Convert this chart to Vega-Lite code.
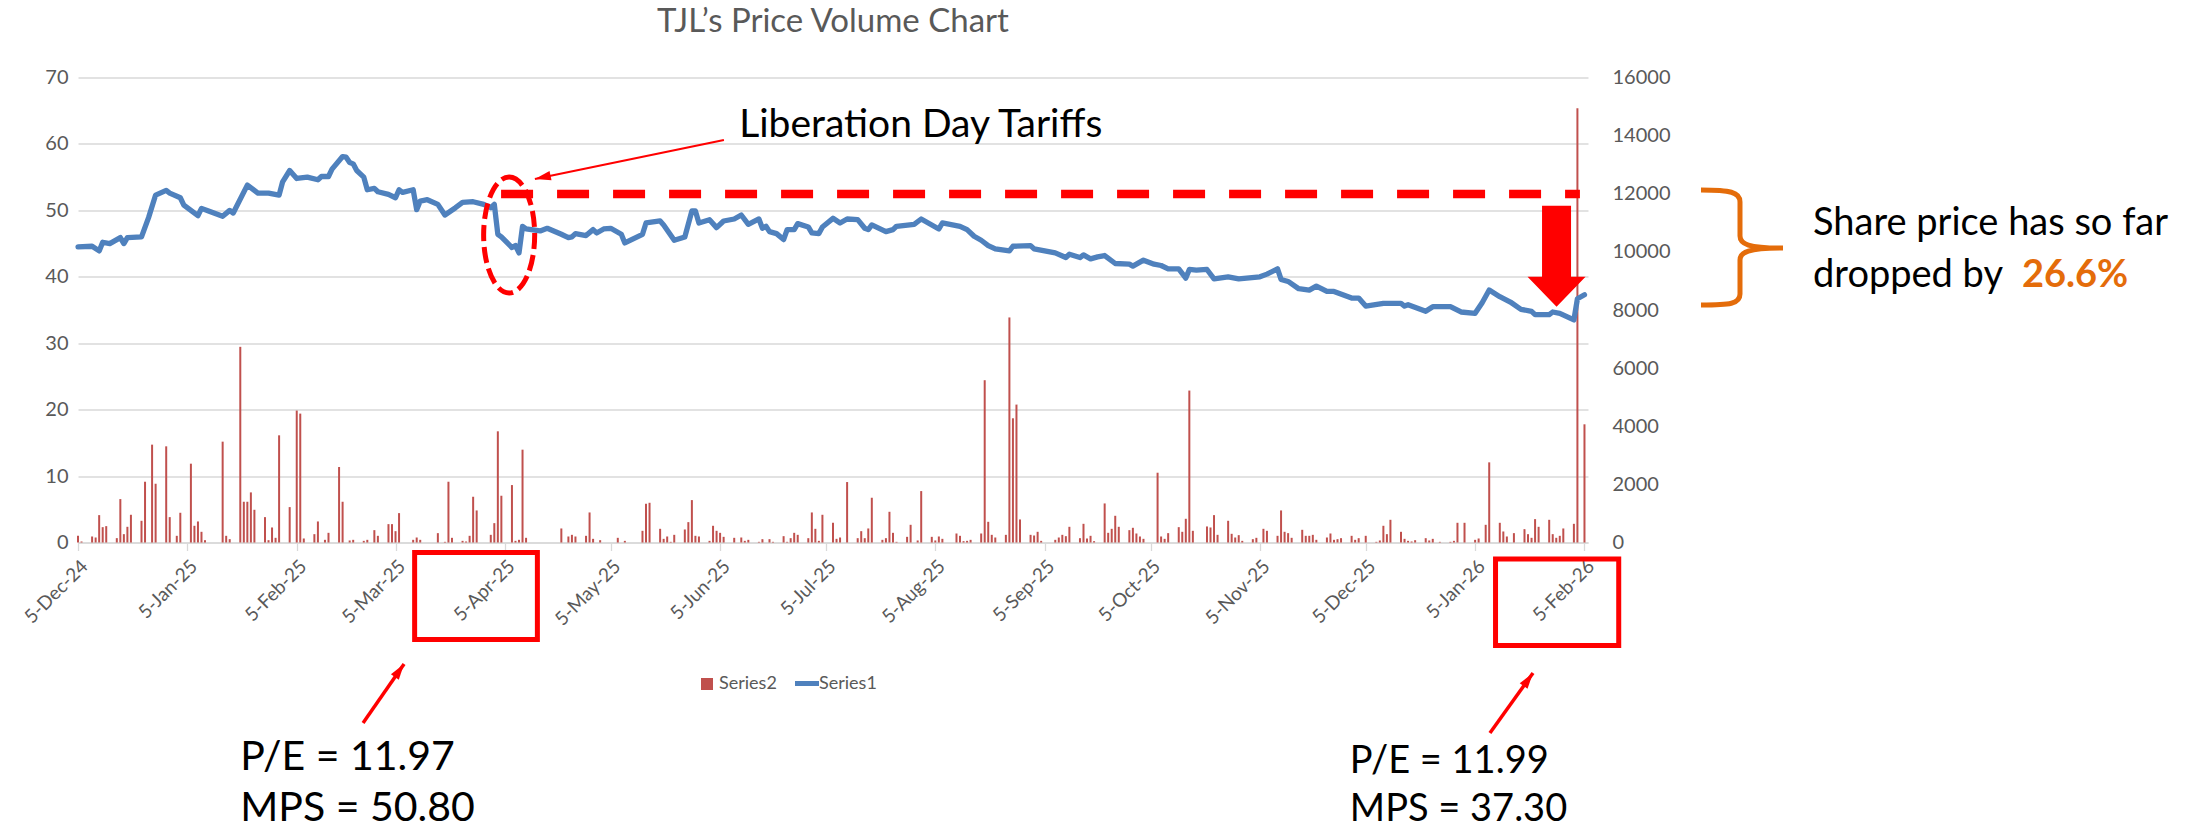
{
  "$schema": "https://vega.github.io/schema/vega-lite/v6.json",
  "width": 1510,
  "height": 465,
  "autosize": {"type": "none"},
  "padding": {"left": 78, "top": 77.5, "right": 619, "bottom": 286.5},
  "background": "white",
  "config": {"view": {"stroke": null}, "font": "Lato"},
  "title": {"text": "TJL’s Price Volume Chart", "font": "Lato", "fontSize": 33, "fontWeight": "normal", "color": "#595959", "anchor": "middle", "frame": "group", "offset": 3, "baseline": "alphabetic"},
  "datasets": {
    "price": [
      {"date": "2024-12-05", "price": 44.5}, {"date": "2024-12-09", "price": 44.6}, {"date": "2024-12-11", "price": 43.9}, {"date": "2024-12-12", "price": 45.2},
      {"date": "2024-12-14", "price": 45.0}, {"date": "2024-12-17", "price": 45.9}, {"date": "2024-12-18", "price": 45.0}, {"date": "2024-12-19", "price": 45.9},
      {"date": "2024-12-23", "price": 46.0}, {"date": "2024-12-25", "price": 48.9}, {"date": "2024-12-27", "price": 52.3}, {"date": "2024-12-30", "price": 53.0},
      {"date": "2024-12-31", "price": 52.6}, {"date": "2025-01-03", "price": 51.9}, {"date": "2025-01-04", "price": 50.8}, {"date": "2025-01-08", "price": 49.2},
      {"date": "2025-01-09", "price": 50.3}, {"date": "2025-01-11", "price": 49.9}, {"date": "2025-01-15", "price": 49.1}, {"date": "2025-01-17", "price": 50.0},
      {"date": "2025-01-18", "price": 49.6}, {"date": "2025-01-22", "price": 53.8}, {"date": "2025-01-25", "price": 52.6}, {"date": "2025-01-28", "price": 52.6},
      {"date": "2025-01-31", "price": 52.3}, {"date": "2025-02-01", "price": 54.3}, {"date": "2025-02-03", "price": 56.0}, {"date": "2025-02-05", "price": 54.8},
      {"date": "2025-02-08", "price": 55.0}, {"date": "2025-02-11", "price": 54.6}, {"date": "2025-02-12", "price": 55.1}, {"date": "2025-02-14", "price": 55.1},
      {"date": "2025-02-15", "price": 56.2}, {"date": "2025-02-18", "price": 58.1}, {"date": "2025-02-19", "price": 58.0}, {"date": "2025-02-20", "price": 57.2},
      {"date": "2025-02-21", "price": 57.0}, {"date": "2025-02-22", "price": 56.0}, {"date": "2025-02-24", "price": 55.0}, {"date": "2025-02-25", "price": 53.1},
      {"date": "2025-02-27", "price": 53.3}, {"date": "2025-02-28", "price": 52.8}, {"date": "2025-03-03", "price": 52.4}, {"date": "2025-03-05", "price": 51.9},
      {"date": "2025-03-06", "price": 53.1}, {"date": "2025-03-07", "price": 52.7}, {"date": "2025-03-10", "price": 53.1}, {"date": "2025-03-11", "price": 50.1},
      {"date": "2025-03-12", "price": 51.4}, {"date": "2025-03-14", "price": 51.6}, {"date": "2025-03-17", "price": 50.9}, {"date": "2025-03-19", "price": 49.3},
      {"date": "2025-03-22", "price": 50.4}, {"date": "2025-03-24", "price": 51.2}, {"date": "2025-03-27", "price": 51.3}, {"date": "2025-03-30", "price": 50.9},
      {"date": "2025-04-01", "price": 50.4}, {"date": "2025-04-02", "price": 50.9}, {"date": "2025-04-03", "price": 46.4}, {"date": "2025-04-04", "price": 46.0},
      {"date": "2025-04-07", "price": 44.4}, {"date": "2025-04-08", "price": 44.7}, {"date": "2025-04-09", "price": 43.6}, {"date": "2025-04-10", "price": 47.6},
      {"date": "2025-04-11", "price": 47.2}, {"date": "2025-04-15", "price": 46.9}, {"date": "2025-04-17", "price": 47.3}, {"date": "2025-04-21", "price": 46.4},
      {"date": "2025-04-23", "price": 45.9}, {"date": "2025-04-24", "price": 46.0}, {"date": "2025-04-25", "price": 46.5}, {"date": "2025-04-28", "price": 46.2},
      {"date": "2025-04-30", "price": 47.1}, {"date": "2025-05-01", "price": 46.6}, {"date": "2025-05-03", "price": 47.2}, {"date": "2025-05-05", "price": 47.3},
      {"date": "2025-05-07", "price": 46.7}, {"date": "2025-05-08", "price": 46.4}, {"date": "2025-05-09", "price": 45.1}, {"date": "2025-05-14", "price": 46.4},
      {"date": "2025-05-15", "price": 48.1}, {"date": "2025-05-19", "price": 48.4}, {"date": "2025-05-20", "price": 47.8}, {"date": "2025-05-23", "price": 45.5},
      {"date": "2025-05-26", "price": 46.0}, {"date": "2025-05-28", "price": 49.9}, {"date": "2025-05-29", "price": 49.9}, {"date": "2025-05-30", "price": 48.1},
      {"date": "2025-06-02", "price": 48.6}, {"date": "2025-06-04", "price": 47.4}, {"date": "2025-06-06", "price": 48.4}, {"date": "2025-06-09", "price": 48.7},
      {"date": "2025-06-11", "price": 49.3}, {"date": "2025-06-13", "price": 47.9}, {"date": "2025-06-16", "price": 48.7}, {"date": "2025-06-17", "price": 47.3},
      {"date": "2025-06-18", "price": 47.6}, {"date": "2025-06-19", "price": 46.8}, {"date": "2025-06-21", "price": 46.5}, {"date": "2025-06-23", "price": 45.6},
      {"date": "2025-06-24", "price": 47.1}, {"date": "2025-06-26", "price": 47.1}, {"date": "2025-06-27", "price": 48.0}, {"date": "2025-06-30", "price": 47.5},
      {"date": "2025-07-01", "price": 46.6}, {"date": "2025-07-03", "price": 46.5}, {"date": "2025-07-04", "price": 47.5}, {"date": "2025-07-07", "price": 48.8},
      {"date": "2025-07-09", "price": 48.1}, {"date": "2025-07-11", "price": 48.7}, {"date": "2025-07-14", "price": 48.6}, {"date": "2025-07-16", "price": 47.3},
      {"date": "2025-07-17", "price": 47.1}, {"date": "2025-07-18", "price": 47.8}, {"date": "2025-07-22", "price": 46.8}, {"date": "2025-07-24", "price": 47.1},
      {"date": "2025-07-25", "price": 47.6}, {"date": "2025-07-30", "price": 47.9}, {"date": "2025-08-01", "price": 48.7}, {"date": "2025-08-04", "price": 47.8},
      {"date": "2025-08-06", "price": 47.2}, {"date": "2025-08-07", "price": 48.1}, {"date": "2025-08-12", "price": 47.6}, {"date": "2025-08-14", "price": 47.1},
      {"date": "2025-08-16", "price": 46.1}, {"date": "2025-08-18", "price": 45.5}, {"date": "2025-08-20", "price": 44.7}, {"date": "2025-08-22", "price": 44.2},
      {"date": "2025-08-26", "price": 43.9}, {"date": "2025-08-27", "price": 44.6}, {"date": "2025-09-01", "price": 44.7}, {"date": "2025-09-02", "price": 44.2},
      {"date": "2025-09-08", "price": 43.6}, {"date": "2025-09-11", "price": 42.9}, {"date": "2025-09-12", "price": 43.4}, {"date": "2025-09-15", "price": 42.9},
      {"date": "2025-09-16", "price": 43.3}, {"date": "2025-09-18", "price": 42.7}, {"date": "2025-09-20", "price": 43.0}, {"date": "2025-09-22", "price": 43.2},
      {"date": "2025-09-25", "price": 42.0}, {"date": "2025-09-29", "price": 41.9}, {"date": "2025-09-30", "price": 41.6}, {"date": "2025-10-03", "price": 42.5},
      {"date": "2025-10-06", "price": 41.9}, {"date": "2025-10-08", "price": 41.7}, {"date": "2025-10-10", "price": 41.2}, {"date": "2025-10-13", "price": 41.2},
      {"date": "2025-10-15", "price": 39.8}, {"date": "2025-10-16", "price": 41.1}, {"date": "2025-10-18", "price": 41.0}, {"date": "2025-10-21", "price": 41.1},
      {"date": "2025-10-23", "price": 39.7}, {"date": "2025-10-27", "price": 40.0}, {"date": "2025-10-30", "price": 39.7}, {"date": "2025-11-05", "price": 40.0},
      {"date": "2025-11-07", "price": 40.4}, {"date": "2025-11-10", "price": 41.2}, {"date": "2025-11-11", "price": 39.6}, {"date": "2025-11-13", "price": 39.3},
      {"date": "2025-11-16", "price": 38.2}, {"date": "2025-11-19", "price": 38.0}, {"date": "2025-11-21", "price": 38.6}, {"date": "2025-11-24", "price": 37.8},
      {"date": "2025-11-26", "price": 37.8}, {"date": "2025-12-01", "price": 36.8}, {"date": "2025-12-03", "price": 36.8}, {"date": "2025-12-05", "price": 35.6},
      {"date": "2025-12-10", "price": 36.0}, {"date": "2025-12-15", "price": 36.0}, {"date": "2025-12-16", "price": 35.6}, {"date": "2025-12-17", "price": 35.8},
      {"date": "2025-12-22", "price": 34.8}, {"date": "2025-12-24", "price": 35.5}, {"date": "2025-12-29", "price": 35.5}, {"date": "2026-01-01", "price": 34.7},
      {"date": "2026-01-05", "price": 34.5}, {"date": "2026-01-07", "price": 36.1}, {"date": "2026-01-09", "price": 38.0}, {"date": "2026-01-12", "price": 37.0},
      {"date": "2026-01-15", "price": 36.2}, {"date": "2026-01-18", "price": 35.1}, {"date": "2026-01-21", "price": 34.8}, {"date": "2026-01-22", "price": 34.3},
      {"date": "2026-01-26", "price": 34.3}, {"date": "2026-01-27", "price": 34.7}, {"date": "2026-01-29", "price": 34.5}, {"date": "2026-02-02", "price": 33.5},
      {"date": "2026-02-03", "price": 36.7}, {"date": "2026-02-05", "price": 37.3}
    ],
    "volume": [
      {"date": "2024-12-05", "volume": 230}, {"date": "2024-12-06", "volume": 35}, {"date": "2024-12-09", "volume": 207}, {"date": "2024-12-10", "volume": 172},
      {"date": "2024-12-11", "volume": 942}, {"date": "2024-12-12", "volume": 528}, {"date": "2024-12-13", "volume": 563}, {"date": "2024-12-16", "volume": 150},
      {"date": "2024-12-17", "volume": 1494}, {"date": "2024-12-18", "volume": 287}, {"date": "2024-12-19", "volume": 540}, {"date": "2024-12-20", "volume": 954},
      {"date": "2024-12-23", "volume": 747}, {"date": "2024-12-24", "volume": 2091}, {"date": "2024-12-26", "volume": 3367}, {"date": "2024-12-27", "volume": 2022},
      {"date": "2024-12-30", "volume": 3309}, {"date": "2024-12-31", "volume": 873}, {"date": "2025-01-02", "volume": 230}, {"date": "2025-01-03", "volume": 1023},
      {"date": "2025-01-06", "volume": 2712}, {"date": "2025-01-07", "volume": 575}, {"date": "2025-01-08", "volume": 724}, {"date": "2025-01-09", "volume": 368},
      {"date": "2025-01-10", "volume": 80}, {"date": "2025-01-15", "volume": 3470}, {"date": "2025-01-16", "volume": 230}, {"date": "2025-01-17", "volume": 115},
      {"date": "2025-01-20", "volume": 6733}, {"date": "2025-01-21", "volume": 1402}, {"date": "2025-01-22", "volume": 1402}, {"date": "2025-01-23", "volume": 1724},
      {"date": "2025-01-24", "volume": 1126}, {"date": "2025-01-27", "volume": 873}, {"date": "2025-01-28", "volume": 80}, {"date": "2025-01-29", "volume": 517},
      {"date": "2025-01-30", "volume": 161}, {"date": "2025-01-31", "volume": 3688}, {"date": "2025-02-03", "volume": 1218}, {"date": "2025-02-05", "volume": 4539},
      {"date": "2025-02-06", "volume": 4435}, {"date": "2025-02-07", "volume": 138}, {"date": "2025-02-10", "volume": 287}, {"date": "2025-02-11", "volume": 724},
      {"date": "2025-02-13", "volume": 92}, {"date": "2025-02-14", "volume": 333}, {"date": "2025-02-17", "volume": 2597}, {"date": "2025-02-18", "volume": 1402},
      {"date": "2025-02-20", "volume": 70}, {"date": "2025-02-21", "volume": 92}, {"date": "2025-02-24", "volume": 57}, {"date": "2025-02-25", "volume": 92},
      {"date": "2025-02-27", "volume": 425}, {"date": "2025-02-28", "volume": 230}, {"date": "2025-03-03", "volume": 632}, {"date": "2025-03-04", "volume": 632},
      {"date": "2025-03-05", "volume": 390}, {"date": "2025-03-06", "volume": 1011}, {"date": "2025-03-10", "volume": 92}, {"date": "2025-03-11", "volume": 172},
      {"date": "2025-03-12", "volume": 92}, {"date": "2025-03-17", "volume": 322}, {"date": "2025-03-19", "volume": 23}, {"date": "2025-03-20", "volume": 2091},
      {"date": "2025-03-21", "volume": 161}, {"date": "2025-03-24", "volume": 57}, {"date": "2025-03-25", "volume": 35}, {"date": "2025-03-26", "volume": 230},
      {"date": "2025-03-27", "volume": 1574}, {"date": "2025-03-28", "volume": 1103}, {"date": "2025-04-01", "volume": 264}, {"date": "2025-04-02", "volume": 666},
      {"date": "2025-04-03", "volume": 3826}, {"date": "2025-04-04", "volume": 1609}, {"date": "2025-04-07", "volume": 1976}, {"date": "2025-04-08", "volume": 57},
      {"date": "2025-04-09", "volume": 92}, {"date": "2025-04-10", "volume": 3194}, {"date": "2025-04-11", "volume": 161}, {"date": "2025-04-21", "volume": 483},
      {"date": "2025-04-23", "volume": 207}, {"date": "2025-04-24", "volume": 264}, {"date": "2025-04-25", "volume": 207}, {"date": "2025-04-28", "volume": 230},
      {"date": "2025-04-29", "volume": 1034}, {"date": "2025-04-30", "volume": 126}, {"date": "2025-05-02", "volume": 80}, {"date": "2025-05-07", "volume": 161},
      {"date": "2025-05-09", "volume": 57}, {"date": "2025-05-14", "volume": 402}, {"date": "2025-05-15", "volume": 1333}, {"date": "2025-05-16", "volume": 1367},
      {"date": "2025-05-19", "volume": 471}, {"date": "2025-05-20", "volume": 126}, {"date": "2025-05-21", "volume": 207}, {"date": "2025-05-22", "volume": 23},
      {"date": "2025-05-23", "volume": 264}, {"date": "2025-05-26", "volume": 448}, {"date": "2025-05-27", "volume": 701}, {"date": "2025-05-28", "volume": 1459},
      {"date": "2025-05-29", "volume": 230}, {"date": "2025-05-30", "volume": 207}, {"date": "2025-06-02", "volume": 57}, {"date": "2025-06-03", "volume": 575},
      {"date": "2025-06-04", "volume": 402}, {"date": "2025-06-05", "volume": 333}, {"date": "2025-06-06", "volume": 195}, {"date": "2025-06-09", "volume": 161},
      {"date": "2025-06-11", "volume": 172}, {"date": "2025-06-12", "volume": 57}, {"date": "2025-06-13", "volume": 92}, {"date": "2025-06-16", "volume": 23},
      {"date": "2025-06-17", "volume": 115}, {"date": "2025-06-19", "volume": 115}, {"date": "2025-06-20", "volume": 23}, {"date": "2025-06-23", "volume": 218},
      {"date": "2025-06-24", "volume": 23}, {"date": "2025-06-25", "volume": 149}, {"date": "2025-06-26", "volume": 333}, {"date": "2025-06-27", "volume": 264},
      {"date": "2025-06-30", "volume": 149}, {"date": "2025-07-01", "volume": 1034}, {"date": "2025-07-02", "volume": 471}, {"date": "2025-07-03", "volume": 57},
      {"date": "2025-07-04", "volume": 954}, {"date": "2025-07-07", "volume": 678}, {"date": "2025-07-08", "volume": 126}, {"date": "2025-07-09", "volume": 172},
      {"date": "2025-07-11", "volume": 2080}, {"date": "2025-07-14", "volume": 149}, {"date": "2025-07-15", "volume": 390}, {"date": "2025-07-16", "volume": 149},
      {"date": "2025-07-17", "volume": 483}, {"date": "2025-07-18", "volume": 1540}, {"date": "2025-07-21", "volume": 92}, {"date": "2025-07-22", "volume": 149},
      {"date": "2025-07-23", "volume": 1057}, {"date": "2025-07-24", "volume": 333}, {"date": "2025-07-25", "volume": 23}, {"date": "2025-07-28", "volume": 195},
      {"date": "2025-07-29", "volume": 609}, {"date": "2025-07-31", "volume": 70}, {"date": "2025-08-01", "volume": 1769}, {"date": "2025-08-04", "volume": 195},
      {"date": "2025-08-05", "volume": 70}, {"date": "2025-08-06", "volume": 207}, {"date": "2025-08-07", "volume": 126}, {"date": "2025-08-11", "volume": 310},
      {"date": "2025-08-12", "volume": 230}, {"date": "2025-08-13", "volume": 46}, {"date": "2025-08-14", "volume": 57}, {"date": "2025-08-15", "volume": 92},
      {"date": "2025-08-18", "volume": 310}, {"date": "2025-08-19", "volume": 5584}, {"date": "2025-08-20", "volume": 712}, {"date": "2025-08-21", "volume": 264},
      {"date": "2025-08-22", "volume": 172}, {"date": "2025-08-25", "volume": 264}, {"date": "2025-08-26", "volume": 7744}, {"date": "2025-08-27", "volume": 4274},
      {"date": "2025-08-28", "volume": 4745}, {"date": "2025-08-29", "volume": 793}, {"date": "2025-09-01", "volume": 264}, {"date": "2025-09-02", "volume": 241},
      {"date": "2025-09-03", "volume": 368}, {"date": "2025-09-04", "volume": 57}, {"date": "2025-09-08", "volume": 92}, {"date": "2025-09-09", "volume": 172},
      {"date": "2025-09-10", "volume": 264}, {"date": "2025-09-11", "volume": 218}, {"date": "2025-09-12", "volume": 540}, {"date": "2025-09-15", "volume": 149},
      {"date": "2025-09-16", "volume": 643}, {"date": "2025-09-17", "volume": 138}, {"date": "2025-09-18", "volume": 230}, {"date": "2025-09-19", "volume": 46},
      {"date": "2025-09-22", "volume": 1344}, {"date": "2025-09-23", "volume": 333}, {"date": "2025-09-24", "volume": 471}, {"date": "2025-09-25", "volume": 919},
      {"date": "2025-09-26", "volume": 540}, {"date": "2025-09-29", "volume": 425}, {"date": "2025-09-30", "volume": 506}, {"date": "2025-10-01", "volume": 310},
      {"date": "2025-10-02", "volume": 207}, {"date": "2025-10-03", "volume": 126}, {"date": "2025-10-07", "volume": 2401}, {"date": "2025-10-08", "volume": 207},
      {"date": "2025-10-09", "volume": 126}, {"date": "2025-10-10", "volume": 322}, {"date": "2025-10-13", "volume": 528}, {"date": "2025-10-14", "volume": 368},
      {"date": "2025-10-15", "volume": 816}, {"date": "2025-10-16", "volume": 5228}, {"date": "2025-10-17", "volume": 402}, {"date": "2025-10-21", "volume": 552},
      {"date": "2025-10-22", "volume": 517}, {"date": "2025-10-23", "volume": 942}, {"date": "2025-10-24", "volume": 264}, {"date": "2025-10-27", "volume": 747},
      {"date": "2025-10-28", "volume": 299}, {"date": "2025-10-29", "volume": 172}, {"date": "2025-10-30", "volume": 253}, {"date": "2025-10-31", "volume": 57},
      {"date": "2025-11-03", "volume": 115}, {"date": "2025-11-04", "volume": 161}, {"date": "2025-11-06", "volume": 471}, {"date": "2025-11-07", "volume": 402},
      {"date": "2025-11-10", "volume": 230}, {"date": "2025-11-11", "volume": 1103}, {"date": "2025-11-12", "volume": 368}, {"date": "2025-11-13", "volume": 322},
      {"date": "2025-11-14", "volume": 161}, {"date": "2025-11-17", "volume": 437}, {"date": "2025-11-18", "volume": 230}, {"date": "2025-11-19", "volume": 230},
      {"date": "2025-11-20", "volume": 264}, {"date": "2025-11-21", "volume": 92}, {"date": "2025-11-24", "volume": 172}, {"date": "2025-11-25", "volume": 310},
      {"date": "2025-11-26", "volume": 92}, {"date": "2025-11-27", "volume": 115}, {"date": "2025-11-28", "volume": 149}, {"date": "2025-12-01", "volume": 230},
      {"date": "2025-12-02", "volume": 92}, {"date": "2025-12-03", "volume": 149}, {"date": "2025-12-05", "volume": 230}, {"date": "2025-12-08", "volume": 23},
      {"date": "2025-12-09", "volume": 70}, {"date": "2025-12-10", "volume": 575}, {"date": "2025-12-11", "volume": 287}, {"date": "2025-12-12", "volume": 781},
      {"date": "2025-12-15", "volume": 368}, {"date": "2025-12-16", "volume": 126}, {"date": "2025-12-17", "volume": 57}, {"date": "2025-12-18", "volume": 35},
      {"date": "2025-12-19", "volume": 80}, {"date": "2025-12-22", "volume": 149}, {"date": "2025-12-23", "volume": 70}, {"date": "2025-12-24", "volume": 126},
      {"date": "2025-12-26", "volume": 23}, {"date": "2025-12-29", "volume": 23}, {"date": "2025-12-30", "volume": 57}, {"date": "2025-12-31", "volume": 678},
      {"date": "2026-01-02", "volume": 678}, {"date": "2026-01-05", "volume": 92}, {"date": "2026-01-06", "volume": 138}, {"date": "2026-01-08", "volume": 609},
      {"date": "2026-01-09", "volume": 2758}, {"date": "2026-01-12", "volume": 678}, {"date": "2026-01-13", "volume": 379}, {"date": "2026-01-14", "volume": 207},
      {"date": "2026-01-16", "volume": 322}, {"date": "2026-01-19", "volume": 460}, {"date": "2026-01-20", "volume": 287}, {"date": "2026-01-21", "volume": 161},
      {"date": "2026-01-22", "volume": 804}, {"date": "2026-01-23", "volume": 540}, {"date": "2026-01-26", "volume": 781}, {"date": "2026-01-27", "volume": 287},
      {"date": "2026-01-28", "volume": 161}, {"date": "2026-01-29", "volume": 230}, {"date": "2026-01-30", "volume": 483}, {"date": "2026-02-02", "volume": 643},
      {"date": "2026-02-03", "volume": 14940}, {"date": "2026-02-05", "volume": 4067}
    ]
  },
  "layer": [
    {
      "data": {"name": "volume"},
      "mark": {"type": "rule", "strokeWidth": 2},
      "encoding": {
        "x": {"field": "date", "type": "temporal",
          "scale": {"type": "utc", "domain": [{"year": 2024, "month": 12, "date": 5, "utc": true}, {"year": 2026, "month": 2, "date": 6, "utc": true}], "nice": false},
          "axis": {
            "values": [1733356800000, 1736035200000, 1738713600000, 1741132800000, 1743811200000, 1746403200000, 1749081600000, 1751673600000,
                       1754352000000, 1757030400000, 1759622400000, 1762300800000, 1764892800000, 1767571200000, 1770249600000],
            "format": "%-d-%b-%y", "labelAngle": -45, "labelFont": "Lato", "labelFontSize": 19, "labelColor": "#595959",
            "domainColor": "#D9D9D9", "domainWidth": 1.3, "tickColor": "#D9D9D9", "tickWidth": 1.3, "tickSize": 8,
            "labelPadding": 6, "grid": false, "title": null, "labelOverlap": false, "labelFlush": false, "labelBound": false
          }
        },
        "y": {"field": "volume", "type": "quantitative", "scale": {"domain": [0, 16000], "nice": false},
          "axis": {"orient": "right", "values": [0, 2000, 4000, 6000, 8000, 10000, 12000, 14000, 16000], "grid": false, "domain": false, "ticks": false,
            "labelFont": "Lato", "labelFontSize": 20, "labelColor": "#595959", "labelPadding": 24, "title": null, "format": "d"}},
        "y2": {"datum": 0},
        "color": {"datum": "Series2", "scale": {"domain": ["Series2", "Series1"], "range": ["#C0504D", "#4F81BD"]},
          "legend": {"orient": "none", "legendX": 620, "legendY": 597, "direction": "horizontal", "title": null, "symbolSize": 576,
            "labelFont": "Lato", "labelFontSize": 18, "labelColor": "#595959", "labelOffset": 3, "columnPadding": 8, "padding": 0,
            "encode": {"symbols": {"update": {
              "shape": {"signal": "datum.value === 'Series1' ? 'stroke' : 'square'"},
              "size": {"signal": "datum.value === 'Series1' ? 576 : 144"},
              "fill": {"signal": "datum.value === 'Series1' ? 'transparent' : '#C0504D'"},
              "stroke": {"signal": "datum.value === 'Series1' ? '#4F81BD' : '#C0504D'"},
              "strokeWidth": {"signal": "datum.value === 'Series1' ? 5 : 0"},
              "opacity": {"value": 1}
            }}}}}
      }
    },
    {
      "data": {"name": "price"},
      "mark": {"type": "line", "strokeWidth": 5.3, "strokeJoin": "round", "strokeCap": "round"},
      "encoding": {
        "x": {"field": "date", "type": "temporal",
          "scale": {"type": "utc", "domain": [{"year": 2024, "month": 12, "date": 5, "utc": true}, {"year": 2026, "month": 2, "date": 6, "utc": true}], "nice": false}},
        "y": {"field": "price", "type": "quantitative", "scale": {"domain": [0, 70], "nice": false},
          "axis": {"orient": "left", "values": [0, 10, 20, 30, 40, 50, 60, 70], "grid": true, "gridColor": "#D9D9D9", "gridWidth": 1.3, "domain": false, "ticks": false,
            "labelFont": "Lato", "labelFontSize": 20, "labelColor": "#595959", "labelPadding": 10, "title": null}},
        "color": {"datum": "Series1"}
      }
    },
    {
      "data": {"values": [{}]},
      "mark": {"type": "rule", "color": "#FF0000", "strokeWidth": 8.3, "strokeDash": [32, 24]},
      "encoding": {
        "x": {"datum": {"year": 2025, "month": 4, "date": 3, "hours": 22, "utc": true}, "type": "temporal"},
        "x2": {"datum": {"year": 2026, "month": 2, "date": 3, "hours": 17, "utc": true}},
        "y": {"datum": 52.46, "type": "quantitative", "scale": {"domain": [0, 70], "nice": false}, "axis": null}
      }
    },
    {
      "data": {"values": [{}]},
      "mark": {"type": "point", "shape": "M0,-1 C0.243,-1 0.44,-0.552 0.44,0 C0.44,0.552 0.243,1 0,1 C-0.243,1 -0.44,0.552 -0.44,0 C-0.44,-0.552 -0.243,-1 0,-1 Z", "size": 13456, "filled": false, "color": "#FF0000", "strokeWidth": 5, "strokeDash": [16, 6], "opacity": 1},
      "encoding": {
        "x": {"datum": {"year": 2025, "month": 4, "date": 6, "hours": 5, "utc": true}, "type": "temporal"},
        "y": {"datum": 46.29, "type": "quantitative", "scale": {"domain": [0, 70], "nice": false}, "axis": null}
      }
    },
    {
      "data": {"values": [{}]},
      "mark": {"type": "rule", "color": "#FF0000", "strokeWidth": 2.2},
      "encoding": {
        "x": {"datum": {"year": 2025, "month": 6, "date": 6, "hours": 2, "utc": true}, "type": "temporal"},
        "x2": {"datum": {"year": 2025, "month": 4, "date": 13, "hours": 12, "utc": true}},
        "y": {"datum": 60.59, "type": "quantitative", "scale": {"domain": [0, 70], "nice": false}, "axis": null},
        "y2": {"datum": 54.72}
      }
    },
    {
      "data": {"values": [{}]},
      "mark": {"type": "point", "shape": "M0,0 L0.6,2 L-0.6,2 Z", "size": 256, "angle": 258, "filled": true, "color": "#FF0000", "strokeWidth": 0, "opacity": 1},
      "encoding": {
        "x": {"datum": {"year": 2025, "month": 4, "date": 13, "hours": 12, "utc": true}, "type": "temporal"},
        "y": {"datum": 54.72, "type": "quantitative", "scale": {"domain": [0, 70], "nice": false}, "axis": null}
      }
    },
    {
      "data": {"values": [{}]},
      "mark": {"type": "text", "text": "Liberation Day Tariffs", "font": "Lato", "fontSize": 39, "color": "#000000", "align": "left", "baseline": "alphabetic"},
      "encoding": {
        "x": {"datum": {"year": 2025, "month": 6, "date": 10, "hours": 10, "utc": true}, "type": "temporal"},
        "y": {"datum": 61.04, "type": "quantitative", "scale": {"domain": [0, 70], "nice": false}, "axis": null}
      }
    },
    {
      "data": {"values": [{}]},
      "mark": {"type": "point", "shape": "M0,0 L0.58,-0.6 L0.29,-0.6 L0.29,-2.02 L-0.29,-2.02 L-0.29,-0.6 L-0.58,-0.6 Z", "size": 10000, "filled": true, "color": "#FF0000", "strokeWidth": 0, "opacity": 1},
      "encoding": {
        "x": {"datum": {"year": 2026, "month": 1, "date": 28, "hours": 2, "utc": true}, "type": "temporal"},
        "y": {"datum": 35.5, "type": "quantitative", "scale": {"domain": [0, 70], "nice": false}, "axis": null}
      }
    },
    {
      "data": {"values": [{}]},
      "mark": {"type": "point", "shape": "M-0.78,-1.16 C-0.2,-1.16 0,-1.12 0,-0.92 L0,-0.24 C0,-0.08 0.16,0 0.86,0 C0.16,0 0,0.08 0,0.24 L0,0.92 C0,1.12 -0.2,1.14 -0.78,1.14", "size": 10000, "filled": false, "color": "#E46C0A", "strokeWidth": 5, "opacity": 1},
      "encoding": {
        "x": {"datum": {"year": 2026, "month": 3, "date": 21, "hours": 2, "utc": true}, "type": "temporal"},
        "y": {"datum": 44.33, "type": "quantitative", "scale": {"domain": [0, 70], "nice": false}, "axis": null}
      }
    },
    {
      "data": {"values": [{}]},
      "mark": {"type": "text", "text": ["Share price has so far", "dropped by"], "lineHeight": 52, "font": "Lato", "fontSize": 38, "color": "#000000", "align": "left", "baseline": "alphabetic"},
      "encoding": {
        "x": {"datum": {"year": 2026, "month": 4, "date": 10, "hours": 19, "utc": true}, "type": "temporal"},
        "y": {"datum": 46.29, "type": "quantitative", "scale": {"domain": [0, 70], "nice": false}, "axis": null}
      }
    },
    {
      "data": {"values": [{}]},
      "mark": {"type": "text", "text": "26.6%", "font": "Lato", "fontSize": 38, "fontWeight": "bold", "color": "#E46C0A", "align": "left", "baseline": "alphabetic"},
      "encoding": {
        "x": {"datum": {"year": 2026, "month": 6, "date": 9, "utc": true}, "type": "temporal"},
        "y": {"datum": 38.46, "type": "quantitative", "scale": {"domain": [0, 70], "nice": false}, "axis": null}
      }
    },
    {
      "data": {"values": [{}]},
      "mark": {"type": "rect", "filled": false, "stroke": "#FF0000", "strokeWidth": 5},
      "encoding": {
        "x": {"datum": {"year": 2025, "month": 3, "date": 10, "hours": 10, "utc": true}, "type": "temporal"},
        "x2": {"datum": {"year": 2025, "month": 4, "date": 14, "hours": 5, "utc": true}},
        "y": {"datum": -1.51, "type": "quantitative", "scale": {"domain": [0, 70], "nice": false}, "axis": null},
        "y2": {"datum": -14.6}
      }
    },
    {
      "data": {"values": [{}]},
      "mark": {"type": "rect", "filled": false, "stroke": "#FF0000", "strokeWidth": 5},
      "encoding": {
        "x": {"datum": {"year": 2026, "month": 1, "date": 10, "hours": 19, "utc": true}, "type": "temporal"},
        "x2": {"datum": {"year": 2026, "month": 2, "date": 14, "hours": 17, "utc": true}},
        "y": {"datum": -2.48, "type": "quantitative", "scale": {"domain": [0, 70], "nice": false}, "axis": null},
        "y2": {"datum": -15.5}
      }
    },
    {
      "data": {"values": [{}]},
      "mark": {"type": "rule", "color": "#FF0000", "strokeWidth": 3.5},
      "encoding": {
        "x": {"datum": {"year": 2025, "month": 2, "date": 23, "hours": 19, "utc": true}, "type": "temporal"},
        "x2": {"datum": {"year": 2025, "month": 3, "date": 7, "hours": 10, "utc": true}},
        "y": {"datum": -27.17, "type": "quantitative", "scale": {"domain": [0, 70], "nice": false}, "axis": null},
        "y2": {"datum": -18.29}
      }
    },
    {
      "data": {"values": [{}]},
      "mark": {"type": "point", "shape": "M0,0 L0.6,2 L-0.6,2 Z", "size": 256, "angle": 35, "filled": true, "color": "#FF0000", "strokeWidth": 0, "opacity": 1},
      "encoding": {
        "x": {"datum": {"year": 2025, "month": 3, "date": 7, "hours": 10, "utc": true}, "type": "temporal"},
        "y": {"datum": -18.29, "type": "quantitative", "scale": {"domain": [0, 70], "nice": false}, "axis": null}
      }
    },
    {
      "data": {"values": [{}]},
      "mark": {"type": "rule", "color": "#FF0000", "strokeWidth": 3.5},
      "encoding": {
        "x": {"datum": {"year": 2026, "month": 1, "date": 9, "hours": 5, "utc": true}, "type": "temporal"},
        "x2": {"datum": {"year": 2026, "month": 1, "date": 21, "hours": 10, "utc": true}},
        "y": {"datum": -28.68, "type": "quantitative", "scale": {"domain": [0, 70], "nice": false}, "axis": null},
        "y2": {"datum": -19.65}
      }
    },
    {
      "data": {"values": [{}]},
      "mark": {"type": "point", "shape": "M0,0 L0.6,2 L-0.6,2 Z", "size": 256, "angle": 36, "filled": true, "color": "#FF0000", "strokeWidth": 0, "opacity": 1},
      "encoding": {
        "x": {"datum": {"year": 2026, "month": 1, "date": 21, "hours": 10, "utc": true}, "type": "temporal"},
        "y": {"datum": -19.65, "type": "quantitative", "scale": {"domain": [0, 70], "nice": false}, "axis": null}
      }
    },
    {
      "data": {"values": [{}]},
      "mark": {"type": "text", "text": ["P/E = 11.97", "MPS = 50.80"], "lineHeight": 51, "font": "Lato", "fontSize": 41, "color": "#000000", "align": "left", "baseline": "alphabetic"},
      "encoding": {
        "x": {"datum": {"year": 2025, "month": 1, "date": 20, "utc": true}, "type": "temporal"},
        "y": {"datum": -34.25, "type": "quantitative", "scale": {"domain": [0, 70], "nice": false}, "axis": null}
      }
    },
    {
      "data": {"values": [{}]},
      "mark": {"type": "text", "text": ["P/E = 11.99", "MPS = 37.30"], "lineHeight": 48, "font": "Lato", "fontSize": 38, "color": "#000000", "align": "left", "baseline": "alphabetic"},
      "encoding": {
        "x": {"datum": {"year": 2025, "month": 11, "date": 30, "hours": 12, "utc": true}, "type": "temporal"},
        "y": {"datum": -34.75, "type": "quantitative", "scale": {"domain": [0, 70], "nice": false}, "axis": null}
      }
    }
  ],
  "resolve": {"scale": {"y": "independent"}}
}
